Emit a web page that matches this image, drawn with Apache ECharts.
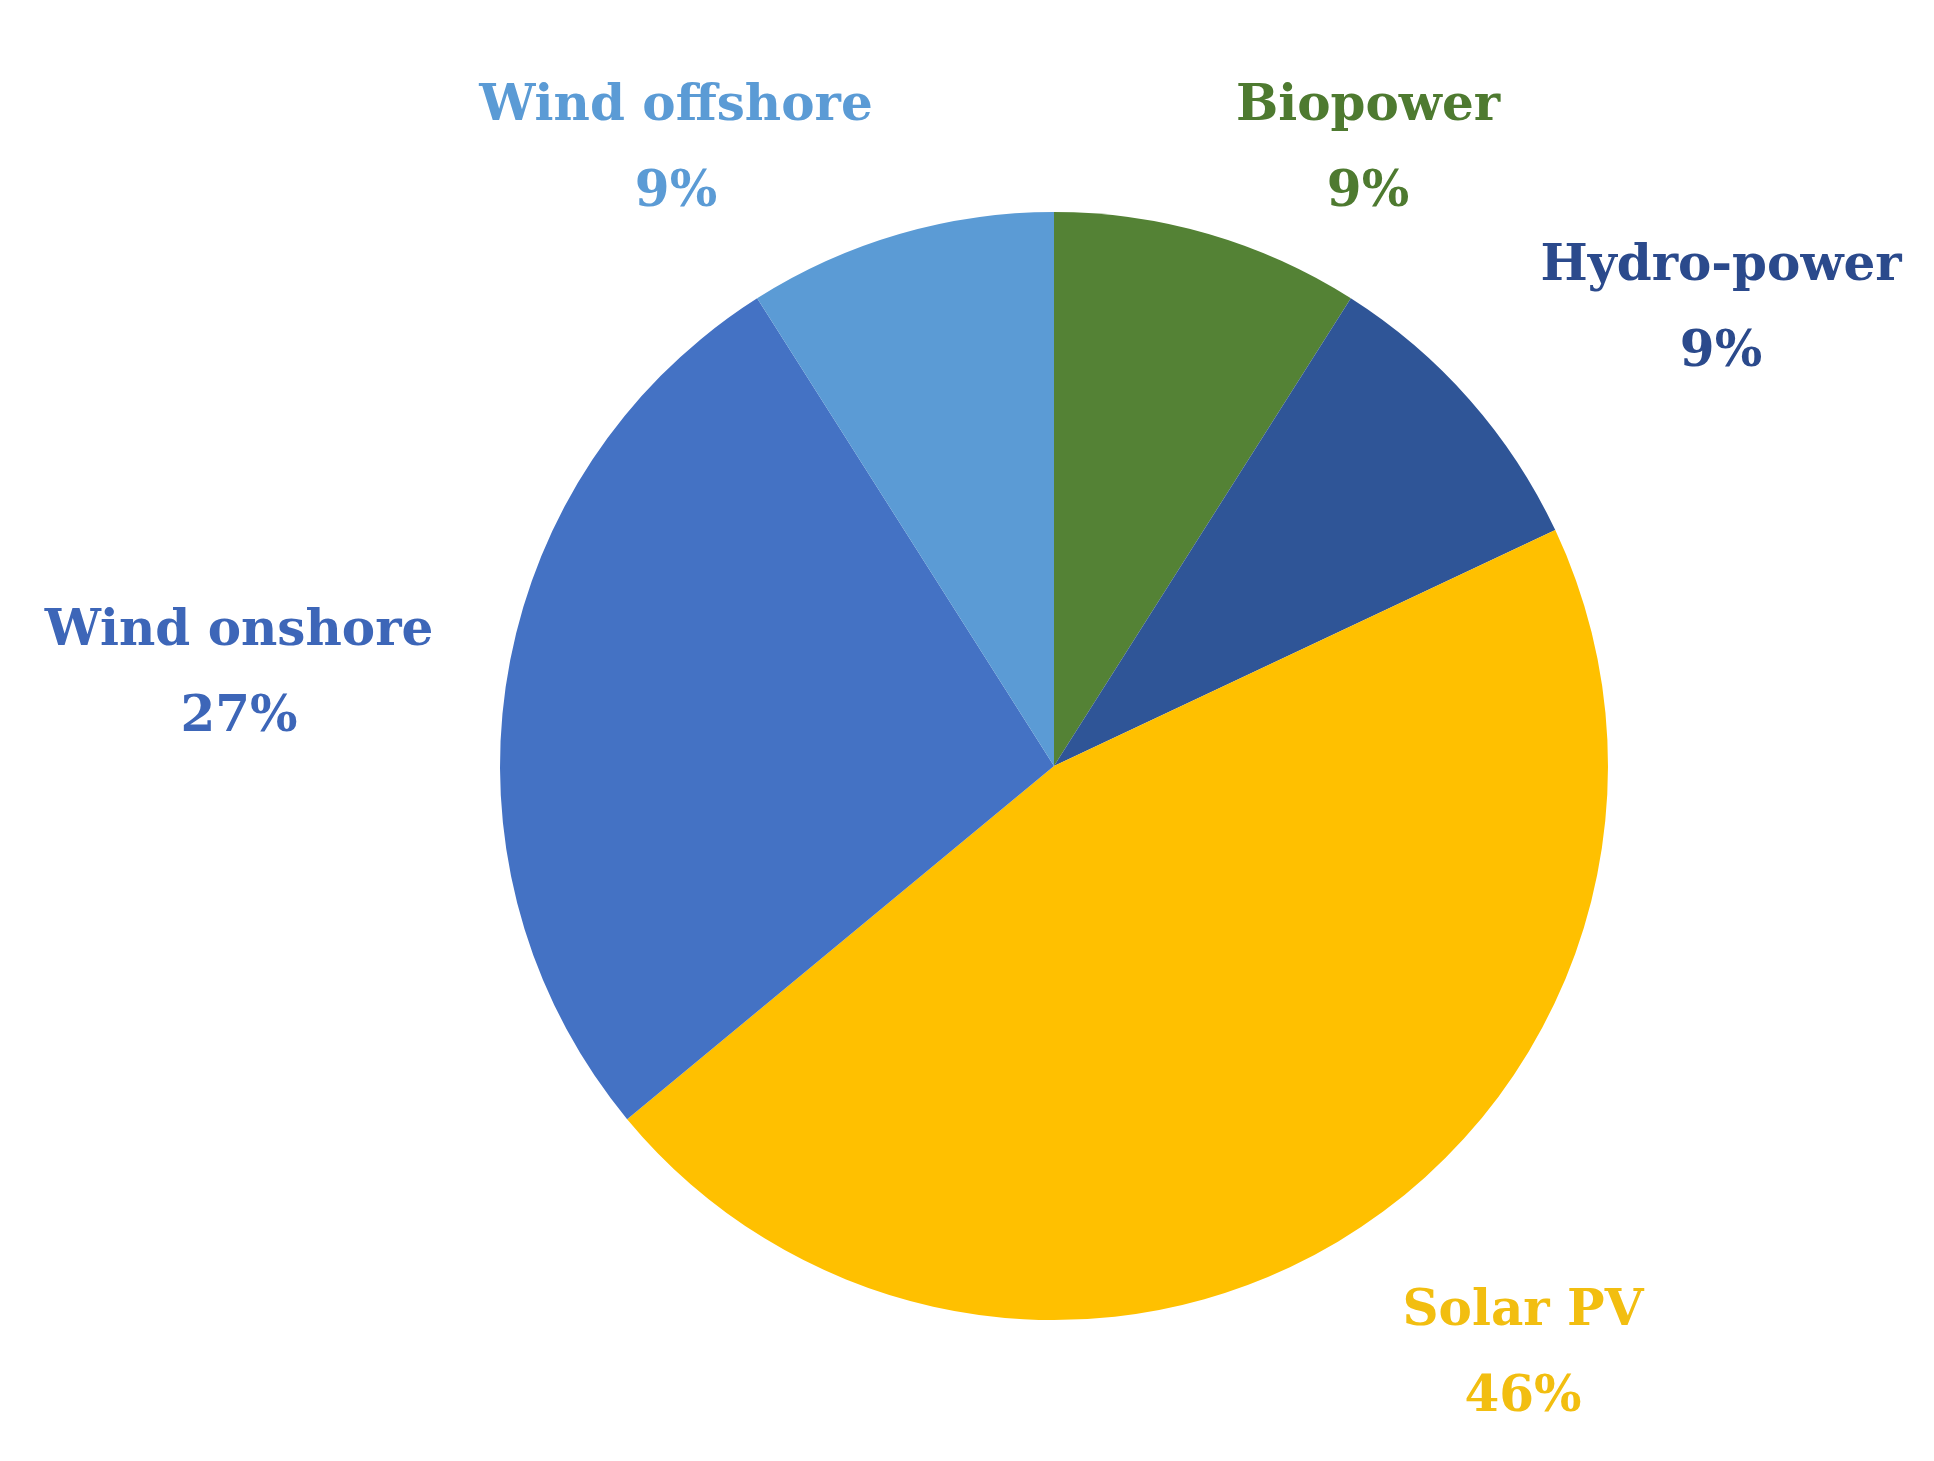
<!DOCTYPE html>
<html>
<head>
<meta charset="utf-8">
<script src="https://cdn.jsdelivr.net/npm/echarts@6/dist/echarts.min.js"></script>
<style>
  html, body { margin: 0; padding: 0; background: #fff; }
  #chart { width: 1934px; height: 1461px; }
</style>
</head>
<body>
<div id="chart"></div>
<script>
// slices clockwise from 12 o'clock
var categories = ['Biopower', 'Hydro-power', 'Solar PV', 'Wind onshore', 'Wind offshore'];
var shares = [9, 9, 46, 27, 9];
var sliceColors = ['#548235', '#2F5597', '#FFC000', '#4472C4', '#5B9BD5'];
var labelColors = ['#4E7A30', '#2B4A8C', '#F2BE10', '#3D66B8', '#5B9BD5'];
// where each label sits (centre of text block)
var labelPos = [[1368, 150], [1721, 310], [1523, 1355], [239, 675], [676, 150]];

var chart = echarts.init(document.getElementById('chart'));

var data = categories.map(function (name, i) {
    return {
        name: name,
        value: shares[i],
        itemStyle: { color: sliceColors[i] },
        label: { color: labelColors[i] }
    };
});

chart.setOption({
    animation: false,
    series: [{
        type: 'pie',
        center: [1054, 766],
        radius: 554,
        startAngle: 90,
        clockwise: true,
        data: data,
        itemStyle: { borderWidth: 0 },
        labelLine: { show: false },
        label: {
            show: true,
            position: 'outside',
            fontFamily: 'DejaVu Serif',
            fontWeight: 'bold',
            fontSize: 50,
            lineHeight: 86,
            align: 'center',
            formatter: function (p) { return p.name + '\n' + p.value + '%'; }
        },
        labelLayout: function (p) {
            var pos = labelPos[p.dataIndex];
            return { x: pos[0], y: pos[1], align: 'center', verticalAlign: 'middle' };
        }
    }]
});
</script>
</body>
</html>
